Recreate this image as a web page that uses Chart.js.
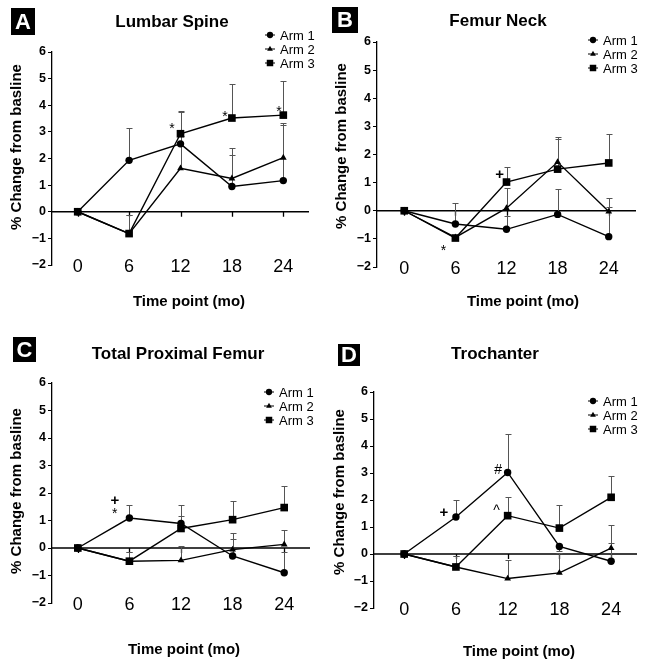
<!DOCTYPE html>
<html>
<head>
<meta charset="utf-8">
<script src="https://cdn.jsdelivr.net/npm/chart.js@4.4.0/dist/chart.umd.min.js"></script>
<style>
  body { margin: 0; background: #fff; }
  #wrap { position: relative; width: 651px; height: 665px; }
  canvas { position: absolute; }
</style>
</head>
<body>
<div id="wrap">
  <canvas id="pA" width="325" height="320" style="left:0;top:0"></canvas>
  <canvas id="pB" width="326" height="320" style="left:325px;top:0"></canvas>
  <canvas id="pC" width="325" height="345" style="left:0;top:320px"></canvas>
  <canvas id="pD" width="326" height="345" style="left:325px;top:320px"></canvas>
</div>
<script>
// time points (months)
var months = [0, 6, 12, 18, 24];
var yTicks = [-2, -1, 0, 1, 2, 3, 4, 5, 6];
var armNames = ['Arm 1', 'Arm 2', 'Arm 3'];

// A - Lumbar Spine
var lumbarArm1 = [0, 1.93, 2.55, 0.95, 1.17];
var lumbarArm2 = [0, -0.82, 1.63, 1.25, 2.03];
var lumbarArm3 = [0, -0.82, 2.93, 3.52, 3.63];
var lumbarErr1 = [null, 3.15, 3.73, 2.12, 3.25];
var lumbarErr2 = [null, -0.14, 2.85, 2.38, 3.33];
var lumbarErr3 = [null, -0.14, 3.8, 4.81, 4.9];

// B - Femur Neck
var neckArm1 = [0, -0.47, -0.66, -0.13, -0.92];
var neckArm2 = [0, -0.95, 0.09, 1.73, -0.03];
var neckArm3 = [0, -0.97, 1.02, 1.48, 1.7];
var neckErr1 = [null, 0.26, -0.2, 0.77, 0.12];
var neckErr2 = [null, null, 0.81, 2.64, 0.46];
var neckErr3 = [null, null, 1.57, 2.56, 2.73];

// C - Total Proximal Femur
var totalArm1 = [0, 1.09, 0.89, -0.29, -0.9];
var totalArm2 = [0, -0.48, -0.45, -0.06, 0.13];
var totalArm3 = [0, -0.48, 0.71, 1.03, 1.47];
var totalErr1 = [null, 1.58, 1.58, 0.34, -0.15];
var totalErr2 = [null, -0.15, 0.07, 0.56, 0.64];
var totalErr3 = [null, -0.15, 1.15, 1.71, 2.25];

// D - Trochanter
var trochArm1 = [0, 1.37, 3.02, 0.28, -0.27];
var trochArm2 = [0, -0.48, -0.91, -0.7, 0.22];
var trochArm3 = [0, -0.48, 1.42, 0.96, 2.1];
var trochErr1 = [null, 2.01, 4.46, 0.1, 0.41];
var trochErr2 = [null, -0.09, -0.21, 0.05, 1.09];
var trochErr3 = [null, -0.09, 2.1, 1.83, 2.9];

// significance marks: [text, month, value]
var lumbarMarks = [['*', 11.0, 3.2], ['*', 17.2, 3.68], ['*', 23.5, 3.87]];
var neckMarks = [['+', 11.2, 1.28], ['*', 4.6, -1.32]];
var totalMarks = [['+', 4.3, 1.73], ['*', 4.3, 1.34]];
var trochMarks = [['+', 4.6, 1.54], ['#', 10.9, 3.12], ['^', 10.7, 1.58]];

var FONT = '"Liberation Sans", Arial, sans-serif';
var styles = ['circle', 'triangle', 'rect'];
var radii = [3.7, 3.9, 5.4];

function mark(ctx, style, x, y, r) {
    ctx.beginPath();
    if (style === 'circle') {
        ctx.arc(x, y, r, 0, Math.PI * 2);
    } else if (style === 'triangle') {
        ctx.moveTo(x, y - r);
        ctx.lineTo(x + r * 0.866, y + r * 0.5);
        ctx.lineTo(x - r * 0.866, y + r * 0.5);
        ctx.closePath();
    } else {
        var s = r * Math.SQRT1_2;
        ctx.rect(x - s, y - s, 2 * s, 2 * s);
    }
    ctx.fill();
}

var decor = {
    id: 'decor',
    beforeDatasetsDraw: function (chart) {
        var p = chart.options.plugins.decor;
        var ctx = chart.ctx, a = chart.chartArea, x = chart.scales.x, y = chart.scales.y;
        var y0 = y.getPixelForValue(0);
        ctx.save();
        ctx.strokeStyle = '#000';
        ctx.lineWidth = 1.3;
        ctx.beginPath();
        ctx.moveTo(a.left, y0);
        ctx.lineTo(a.right, y0);
        months.forEach(function (m) {
            var px = Math.round(x.getPixelForValue(m)) + 0.5;
            ctx.moveTo(px, y0);
            ctx.lineTo(px, y0 + 5);
        });
        ctx.stroke();
        // error bars (upper only)
        ctx.strokeStyle = '#555';
        ctx.lineWidth = 1;
        p.errors.forEach(function (arr, i) {
            arr.forEach(function (u, j) {
                if (u === null) return;
                var px = Math.round(x.getPixelForValue(months[j])) + 0.5;
                var py = y.getPixelForValue(p.values[i][j]);
                var pu = Math.round(y.getPixelForValue(u)) + 0.5;
                ctx.beginPath();
                ctx.moveTo(px, py);
                ctx.lineTo(px, pu);
                ctx.moveTo(px - 3, pu);
                ctx.lineTo(px + 3, pu);
                ctx.stroke();
            });
        });
        ctx.restore();
    },
    afterDraw: function (chart) {
        var p = chart.options.plugins.decor;
        var ctx = chart.ctx, a = chart.chartArea, x = chart.scales.x, y = chart.scales.y;
        ctx.save();
        ctx.fillStyle = '#000';
        ctx.textAlign = 'center';
        ctx.textBaseline = 'middle';
        // x tick labels from the x scale
        ctx.font = '18px ' + FONT;
        x.ticks.forEach(function (t) {
            ctx.fillText(String(t.value), x.getPixelForValue(t.value), a.bottom + 2);
        });
        // panel letter
        var b = p.box;
        ctx.fillRect(b[0], b[1], b[2], b[3]);
        ctx.fillStyle = '#fff';
        ctx.font = 'bold 22px ' + FONT;
        ctx.fillText(p.letter, b[0] + b[2] / 2, b[1] + b[3] / 2 + 1);
        ctx.fillStyle = '#000';
        // title
        ctx.font = 'bold 17px ' + FONT;
        ctx.fillText(p.title, p.titlePos[0], p.titlePos[1]);
        // axis titles
        ctx.font = 'bold 15px ' + FONT;
        ctx.fillText('Time point (mo)', p.xTitle[0], p.xTitle[1]);
        ctx.save();
        ctx.translate(p.yTitle[0], p.yTitle[1]);
        ctx.rotate(-Math.PI / 2);
        ctx.fillText('% Change from basline', 0, 0);
        ctx.restore();
        // legend
        ctx.textAlign = 'left';
        ctx.font = '13px ' + FONT;
        ctx.strokeStyle = '#000';
        ctx.lineWidth = 1;
        armNames.forEach(function (name, i) {
            var lx = p.legend[0], ly = p.legend[1] + i * 14;
            ctx.beginPath();
            ctx.moveTo(lx - 5, ly);
            ctx.lineTo(lx + 5, ly);
            ctx.stroke();
            mark(ctx, styles[i], lx, ly, radii[i] * 0.85);
            ctx.fillText(name, lx + 10, ly + 1);
        });
        // significance marks
        ctx.textAlign = 'center';
        p.marks.forEach(function (m) {
            ctx.font = (m[0] === '+' ? 'bold 15px ' : '14px ') + FONT;
            ctx.fillText(m[0], x.getPixelForValue(m[1]), y.getPixelForValue(m[2]) + (m[0] === '*' ? 3 : 0));
        });
        ctx.restore();
    }
};

function makePanel(id, cfg) {
    var area = cfg.area; // left, top, right, bottom in canvas px
    var canvas = document.getElementById(id);
    var values = [cfg.arm1, cfg.arm2, cfg.arm3];
    new Chart(canvas.getContext('2d'), {
        type: 'line',
        data: {
            datasets: values.map(function (v, i) {
                return {
                    label: armNames[i],
                    data: months.map(function (m, j) { return { x: m, y: v[j] }; }),
                    borderColor: '#000',
                    borderWidth: 1.4,
                    backgroundColor: '#000',
                    pointStyle: styles[i],
                    pointRadius: radii[i],
                    pointBorderWidth: 0,
                    tension: 0
                };
            })
        },
        options: {
            responsive: false,
            animation: false,
            events: [],
            layout: {
                padding: {
                    left: area[0] - 30,
                    top: area[1],
                    right: canvas.width - area[2],
                    bottom: canvas.height - area[3]
                }
            },
            plugins: {
                legend: { display: false },
                tooltip: { enabled: false },
                decor: {
                    values: values,
                    errors: [cfg.err1, cfg.err2, cfg.err3],
                    marks: cfg.marks,
                    letter: cfg.letter,
                    box: cfg.box,
                    title: cfg.title,
                    titlePos: cfg.titlePos,
                    xTitle: cfg.xTitle,
                    yTitle: cfg.yTitle,
                    legend: cfg.legend
                }
            },
            scales: {
                x: {
                    type: 'linear',
                    min: cfg.xRange[0],
                    max: cfg.xRange[1],
                    afterBuildTicks: function (s) { s.ticks = months.map(function (m) { return { value: m }; }); },
                    afterFit: function (s) { s.height = 0; },
                    ticks: { display: false },
                    grid: { display: false, drawTicks: false },
                    border: { display: false }
                },
                y: {
                    min: -2,
                    max: 6,
                    afterBuildTicks: function (s) { s.ticks = yTicks.map(function (v) { return { value: v }; }); },
                    afterFit: function (s) { s.width = 30; },
                    ticks: {
                        color: '#000',
                        padding: 2,
                        font: { family: FONT, size: 12.5, weight: 'bold' },
                        callback: function (v) { return v < 0 ? '\u2212' + Math.abs(v) : String(v); }
                    },
                    grid: { drawOnChartArea: false, tickLength: 4, color: '#000', lineWidth: 1 },
                    border: { color: '#000', width: 1.3 }
                }
            }
        },
        plugins: [decor]
    });
}

makePanel('pA', {
    arm1: lumbarArm1, arm2: lumbarArm2, arm3: lumbarArm3,
    err1: lumbarErr1, err2: lumbarErr2, err3: lumbarErr3,
    marks: lumbarMarks, letter: 'A', title: 'Lumbar Spine',
    area: [52, 52, 309, 265], xRange: [-3, 27],
    box: [11, 8, 24, 27], titlePos: [172, 22], xTitle: [189, 302], yTitle: [17, 147], legend: [270, 35]
});
makePanel('pB', {
    arm1: neckArm1, arm2: neckArm2, arm3: neckArm3,
    err1: neckErr1, err2: neckErr2, err3: neckErr3,
    marks: neckMarks, letter: 'B', title: 'Femur Neck',
    area: [52, 42, 311, 267], xRange: [-3.2, 27.2],
    box: [7, 7, 26, 26], titlePos: [173, 21], xTitle: [198, 302], yTitle: [17, 146], legend: [268, 40]
});
makePanel('pC', {
    arm1: totalArm1, arm2: totalArm2, arm3: totalArm3,
    err1: totalErr1, err2: totalErr2, err3: totalErr3,
    marks: totalMarks, letter: 'C', title: 'Total Proximal Femur',
    area: [52, 63, 310, 283], xRange: [-3, 27],
    box: [13, 17, 23, 25], titlePos: [178, 34], xTitle: [184, 330], yTitle: [17, 171], legend: [269, 72]
});
makePanel('pD', {
    arm1: trochArm1, arm2: trochArm2, arm3: trochArm3,
    err1: trochErr1, err2: trochErr2, err3: trochErr3,
    marks: trochMarks, letter: 'D', title: 'Trochanter',
    area: [49, 72, 312, 288], xRange: [-3.5, 27],
    box: [13, 24, 22, 22], titlePos: [170, 34], xTitle: [194, 332], yTitle: [15, 172], legend: [268, 81]
});
</script>
</body>
</html>
